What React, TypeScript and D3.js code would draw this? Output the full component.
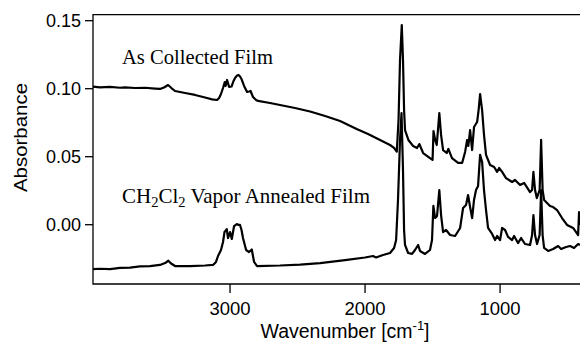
import React from "react";
import * as d3 from "d3";

// FTIR absorbance spectra of two films, wavenumber axis descending.
const xTicks = [3000, 2000, 1000];
const yTicks = [0.0, 0.05, 0.1, 0.15];
const xDomain: [number, number] = [4015, 408];
const yDomain: [number, number] = [-0.0436, 0.1544];

// As collected film: [wavenumber cm^-1, absorbance]
const asCollected: [number, number][] = [
  [4015, 0.1015], [3963, 0.1009], [3889, 0.1013], [3815, 0.1007], [3778, 0.101],
  [3704, 0.1005], [3630, 0.1007], [3556, 0.1001], [3519, 0.0998], [3489, 0.1009],
  [3459, 0.1027], [3430, 0.1001], [3407, 0.0983], [3333, 0.0968], [3259, 0.0954],
  [3185, 0.0935], [3133, 0.0921], [3096, 0.0917], [3081, 0.0932], [3067, 0.0961],
  [3052, 0.1005], [3039, 0.1049], [3033, 0.102], [3022, 0.1064], [3007, 0.1013],
  [2989, 0.1016], [2974, 0.1057], [2963, 0.1079], [2948, 0.1097], [2937, 0.1101],
  [2926, 0.109], [2915, 0.1071], [2896, 0.102], [2874, 0.0976], [2859, 0.0979],
  [2848, 0.0983], [2830, 0.0939], [2807, 0.0917], [2793, 0.091], [2704, 0.0895],
  [2630, 0.088], [2519, 0.0858], [2407, 0.0832], [2296, 0.0799], [2185, 0.0763],
  [2062, 0.0704], [1978, 0.0667], [1889, 0.0623], [1815, 0.0586], [1785, 0.0564],
  [1765, 0.0537], [1752, 0.077], [1741, 0.1211], [1728, 0.1468], [1719, 0.1211],
  [1711, 0.0843], [1704, 0.0696], [1679, 0.0623], [1644, 0.0579], [1615, 0.0564],
  [1598, 0.0593], [1570, 0.0527], [1519, 0.049], [1500, 0.0476], [1493, 0.0689],
  [1481, 0.0623], [1469, 0.0586], [1450, 0.0821], [1437, 0.066], [1422, 0.0549],
  [1395, 0.0527], [1383, 0.0557], [1356, 0.049], [1311, 0.0454], [1281, 0.0454],
  [1259, 0.0535], [1244, 0.0623], [1235, 0.0579], [1222, 0.0696], [1207, 0.0549],
  [1193, 0.0718], [1170, 0.0755], [1159, 0.0843], [1148, 0.0961], [1133, 0.0843],
  [1119, 0.066], [1104, 0.0513], [1074, 0.0439], [1044, 0.0424], [1022, 0.0388],
  [1007, 0.0417], [985, 0.0388], [956, 0.0343], [911, 0.0314], [889, 0.0329],
  [852, 0.0292], [822, 0.0307], [778, 0.024], [763, 0.0255], [753, 0.0388],
  [741, 0.0255], [728, 0.0196], [707, 0.0255], [696, 0.0623], [685, 0.0255],
  [674, 0.0182], [630, 0.0138], [607, 0.013], [578, 0.0108], [541, 0.0049],
  [504, -0.0002], [459, -0.0024], [437, -0.0054], [422, -0.0076], [415, 0.0093],
  [408, -0.0002],
];

// CH2Cl2 vapor annealed film: [wavenumber cm^-1, absorbance]
const annealed: [number, number][] = [
  [4015, -0.0326], [3963, -0.0324], [3889, -0.0326], [3815, -0.0318], [3741, -0.0315],
  [3667, -0.0307], [3593, -0.0304], [3519, -0.0296], [3481, -0.0282], [3457, -0.0265],
  [3437, -0.0285], [3407, -0.0304], [3296, -0.0304], [3185, -0.03], [3126, -0.0296],
  [3104, -0.0274], [3089, -0.023], [3067, -0.0186], [3052, -0.0127], [3041, -0.0054],
  [3024, -0.0032], [3015, -0.0098], [3000, -0.0054], [2987, -0.0105], [2970, -0.001],
  [2950, 0.0005], [2937, -0.0002], [2926, -0.0002], [2915, -0.0039], [2904, -0.0098],
  [2881, -0.0186], [2859, -0.0201], [2839, -0.0182], [2822, -0.0274], [2800, -0.0304],
  [2630, -0.03], [2481, -0.0293], [2333, -0.0282], [2148, -0.026], [2000, -0.0241],
  [1941, -0.023], [1919, -0.0241], [1867, -0.0223], [1815, -0.0208], [1785, -0.0171],
  [1770, -0.0113], [1756, 0.0182], [1741, 0.0623], [1730, 0.0821], [1719, 0.0402],
  [1711, -0.004], [1704, -0.0149], [1681, -0.0208], [1652, -0.0215], [1630, -0.0186],
  [1607, -0.0149], [1593, -0.0193], [1556, -0.0215], [1519, -0.0186], [1504, -0.0113],
  [1494, 0.0138], [1481, 0.0049], [1467, 0.0064], [1450, 0.0255], [1437, 0.0071],
  [1422, -0.0054], [1400, -0.0039], [1370, -0.0076], [1333, -0.0083], [1296, -0.0024],
  [1274, 0.0123], [1252, 0.0145], [1237, 0.0218], [1222, 0.013], [1207, 0.0049],
  [1193, 0.0182], [1178, 0.0255], [1163, 0.0285], [1148, 0.0513], [1133, 0.0461],
  [1119, 0.0255], [1104, 0.0108], [1089, -0.0024], [1059, -0.0068], [1037, -0.0113],
  [1022, -0.0083], [1000, -0.0113], [985, -0.0024], [963, -0.0039], [941, -0.009],
  [911, -0.0113], [896, -0.0083], [867, -0.0135], [844, -0.0098], [815, -0.0142],
  [778, -0.0149], [763, -0.0076], [753, 0.0071], [741, -0.0076], [726, -0.0142],
  [707, -0.0076], [696, 0.0254], [685, -0.0076], [674, -0.0171], [644, -0.0193],
  [607, -0.0179], [570, -0.0157], [548, -0.0179], [511, -0.0164], [481, -0.0157],
  [452, -0.0171], [422, -0.0142], [408, -0.0149],
];

const W = 580;
const H = 342;
const left = 93;
const right = 580;
const top = 14.7;
const bottom = 284;

export default function App() {
  const x = d3.scaleLinear().domain(xDomain).range([left, right]);
  const y = d3.scaleLinear().domain(yDomain).range([bottom, top]);
  const line = d3
    .line<[number, number]>()
    .x((d) => x(d[0]))
    .y((d) => y(d[1]));

  const sans = "'Liberation Sans', Arial, Helvetica, sans-serif";
  const serif = "'Liberation Serif', 'Times New Roman', serif";

  return (
    <svg
      width={W}
      height={H}
      viewBox={`0 0 ${W} ${H}`}
      style={{ position: "fixed", left: 0, top: 0, background: "#fff" }}
    >
      <rect x={0} y={0} width={W} height={H} fill="#fff" />
      {/* frame: left, top, bottom */}
      <path
        d={`M${right},${top}H${left}V${bottom}H${right}`}
        fill="none"
        stroke="#000"
        strokeWidth={1.3}
      />
      {/* y ticks */}
      {yTicks.map((t) => (
        <g key={`y${t}`}>
          <line x1={left - 8} x2={left} y1={y(t)} y2={y(t)} stroke="#000" strokeWidth={1.3} />
          <text
            x={81}
            y={y(t) + 6.2}
            textAnchor="end"
            fontFamily={sans}
            fontSize={18}
            fill="#000"
          >
            {t.toFixed(2)}
          </text>
        </g>
      ))}
      {/* x ticks */}
      {xTicks.map((t) => (
        <g key={`x${t}`}>
          <line x1={x(t)} x2={x(t)} y1={bottom} y2={bottom + 9} stroke="#000" strokeWidth={1.3} />
          <text
            x={x(t)}
            y={315}
            textAnchor="middle"
            fontFamily={sans}
            fontSize={18.5}
            fill="#000"
          >
            {t}
          </text>
        </g>
      ))}
      {/* axis titles */}
      <text
        x={345}
        y={337.5}
        textAnchor="middle"
        fontFamily={sans}
        fontSize={19.5}
        fill="#000"
      >
        Wavenumber [cm
        <tspan fontSize={13} dy={-7.5}>-1</tspan>
        <tspan dy={7.5}>]</tspan>
      </text>
      <text
        transform="translate(27,137.5) rotate(-90)"
        textAnchor="middle"
        fontFamily={sans}
        fontSize={18.5}
        fill="#000"
        textLength={109}
        lengthAdjust="spacingAndGlyphs"
      >
        Absorbance
      </text>
      {/* spectra */}
      <path d={line(asCollected) ?? ""} fill="none" stroke="#000" strokeWidth={2.2} strokeLinejoin="round" />
      <path d={line(annealed) ?? ""} fill="none" stroke="#000" strokeWidth={2.2} strokeLinejoin="round" />
      {/* series labels */}
      <text
        x={122}
        y={63.5}
        fontFamily={serif}
        fontSize={20}
        fill="#000"
        textLength={151}
        lengthAdjust="spacingAndGlyphs"
      >
        As Collected Film
      </text>
      <text x={122} y={203} fontFamily={serif} fontSize={21} fill="#000">
        CH
        <tspan fontSize={14.5} dy={4}>2</tspan>
        <tspan dy={-4}>Cl</tspan>
        <tspan fontSize={14.5} dy={4}>2</tspan>
        <tspan dy={-4}> Vapor Annealed Film</tspan>
      </text>
    </svg>
  );
}
